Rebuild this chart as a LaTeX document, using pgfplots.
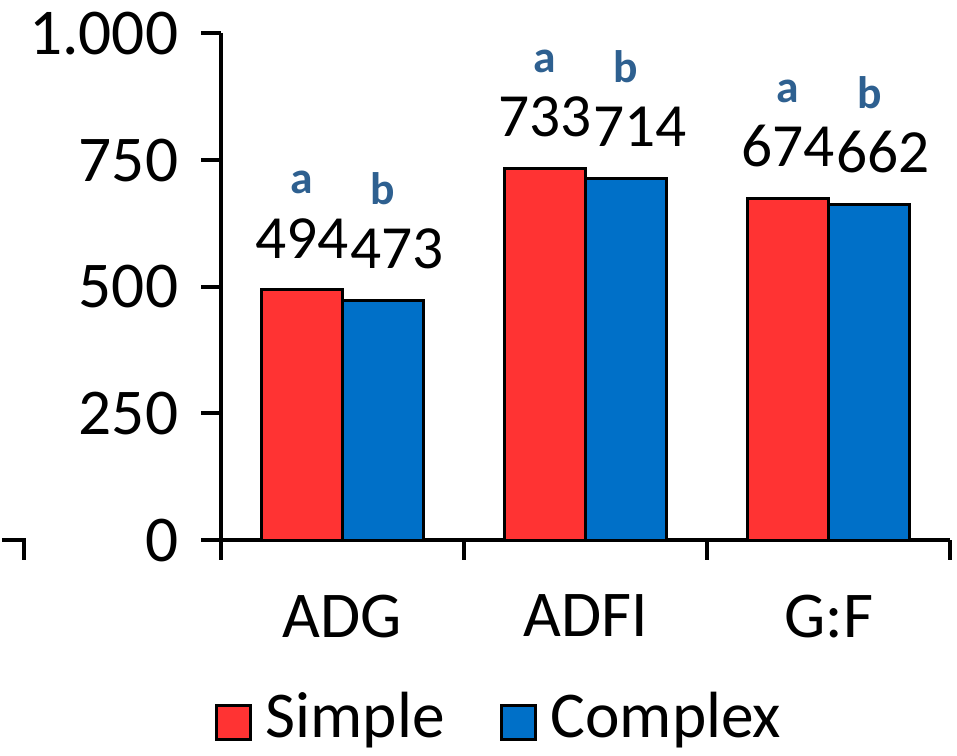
\documentclass[border=0pt]{standalone}
\usepackage{fontspec}
\setmainfont{Carlito}
\usepackage{pgfplots}
\pgfplotsset{compat=1.18}
\definecolor{cred}{HTML}{FF3333}
\definecolor{cblue}{HTML}{0070C8}
\definecolor{clet}{HTML}{2E6090}
\begin{document}
\begin{tikzpicture}
\begin{axis}[
 scale only axis, width=368.5pt, height=256pt,
 xmin=-0.5, xmax=2.5, ymin=0, ymax=1000,
 clip=false,
 axis x line*=bottom, axis y line*=left,
 axis line style={line width=2pt, -},
 ybar=0pt, bar width=41pt,
 xtick={-0.5,0.5,1.5,2.5}, xticklabels={},
 extra x ticks={0,1,2}, extra x tick labels={ADG,ADFI,G:F},
 extra x tick style={major tick length=0pt, xticklabel style={yshift=-24pt}},
 ytick={0,250,500,750,1000},
 tick align=outside,
 major tick length=10pt,
 tick style={line width=2pt, black},
 /pgf/number format/1000 sep={.},
 /pgf/number format/assume math mode=true,
 ticklabel style={font=\fontsize{33}{38}\selectfont},
 yticklabel style={xshift=-8pt, inner ysep=6pt},
 legend style={at={(0.383,-0.36)}, anchor=center, draw=none, legend columns=2,
   inner sep=0pt, nodes={inner ysep=1pt, text depth=8pt},
   font=\fontsize{33}{38}\selectfont,
   /tikz/every odd column/.append style={column sep=5pt},
   /tikz/every even column/.append style={column sep=26pt}},
 legend image code/.code={\draw[#1, line width=1.5pt] (0pt,-8.5pt) rectangle (17pt,8.5pt);},
 every node near coord/.append style={font=\fontsize{31}{31}\selectfont, black, anchor=south, inner sep=0pt, yshift=6pt},
]
\addplot[fill=cred, draw=black, line width=1.5pt,
  nodes near coords={\begin{tabular}{@{}c@{}}{\fontsize{23}{23}\selectfont\bfseries\color{clet}a}\\[1.5pt]\pgfmathprintnumber{\pgfplotspointmeta}\end{tabular}}]
  coordinates {(0,494) (1,733) (2,674)};
\addplot[fill=cblue, draw=black, line width=1.5pt,
  nodes near coords={\begin{tabular}{@{}c@{}}{\fontsize{23}{23}\selectfont\bfseries\color{clet}b}\\[1.5pt]\hspace*{14pt}\pgfmathprintnumber{\pgfplotspointmeta}\end{tabular}}]
  coordinates {(0,473) (1,714) (2,662)};
\legend{Simple,Complex}
\draw[line width=2pt] (axis cs:-1.40,0) -- (axis cs:-1.31,0) -- ([yshift=-10pt]axis cs:-1.31,0);
\end{axis}
\end{tikzpicture}
\end{document}
